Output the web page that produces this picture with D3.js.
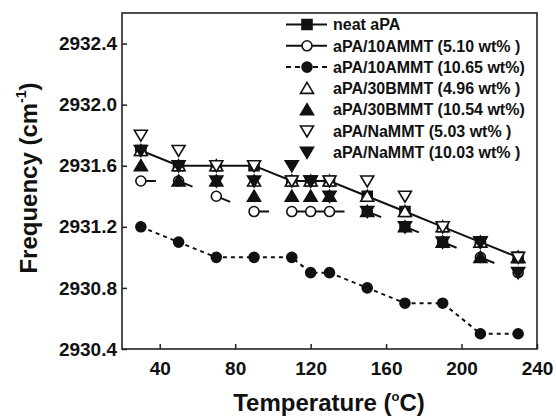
<!DOCTYPE html>
<html>
<head>
<meta charset="utf-8">
<script src="https://cdn.jsdelivr.net/npm/d3@7/dist/d3.min.js"></script>
<style>
body{margin:0;background:#fff;}
.svg text{font-family:"Liberation Sans",Arial,sans-serif;font-weight:bold;fill:#111;}
</style>
</head>
<body>
<svg class="svg" width="556" height="416"></svg>
<script>
// data
var temps=[30,50,70,90,110,120,130,150,170,190,210,230];
var neatAPA=[2931.7,2931.6,2931.6,2931.6,2931.5,2931.5,2931.5,2931.4,2931.3,2931.2,2931.1,2931.0];
var am510=[2931.5,2931.5,2931.4,2931.3,2931.3,2931.3,2931.3,2931.3,2931.2,2931.1,2931.0,2930.9];
var am1065=[2931.2,2931.1,2931.0,2931.0,2931.0,2930.9,2930.9,2930.8,2930.7,2930.7,2930.5,2930.5];
var bm496=[2931.7,2931.6,2931.6,2931.5,2931.5,2931.5,2931.5,2931.4,2931.3,2931.2,2931.1,2931.0];
var bm1054=[2931.6,2931.5,2931.5,2931.4,2931.4,2931.4,2931.4,2931.3,2931.2,2931.1,2931.0,2931.0];
var na503=[2931.8,2931.7,2931.6,2931.6,2931.5,2931.5,2931.5,2931.5,2931.4,2931.2,2931.1,2931.0];
var na1003=[2931.7,2931.6,2931.5,2931.5,2931.6,2931.5,2931.4,2931.3,2931.2,2931.1,2931.1,2930.9];
var seriesNames=["neat aPA","aPA/10AMMT (5.10 wt% )","aPA/10AMMT (10.65 wt%)","aPA/30BMMT (4.96 wt% )",
    "aPA/30BMMT (10.54 wt%)","aPA/NaMMT (5.03 wt% )","aPA/NaMMT (10.03 wt% )"];
var xTicks=[40,80,120,160,200,240];
var yTicks=[2930.4,2930.8,2931.2,2931.6,2932.0,2932.4];

var series=[
    {vals:neatAPA,shape:"square",fill:true,line:"solid"},
    {vals:am510,shape:"circle",fill:false,line:"tail"},
    {vals:am1065,shape:"circle",fill:true,line:"dash"},
    {vals:bm496,shape:"up",fill:false,line:null},
    {vals:bm1054,shape:"up",fill:true,line:null},
    {vals:na503,shape:"down",fill:false,line:null},
    {vals:na1003,shape:"down",fill:true,line:null}
];
var shapes={
    square:"M-5,-5H5V5H-5Z",
    circle:d3.symbol(d3.symbolCircle,78.5)(),
    up:"M0,-6L6.5,5L-6.5,5Z",
    down:"M0,6L6.5,-5L-6.5,-5Z"
};

var svg=d3.select(".svg");
var mL=122,mR=537,mT=13,mB=349;
var x=d3.scaleLinear().domain([20,240]).range([mL,mR]);
var y=d3.scaleLinear().domain([2930.4,2932.6]).range([mB,mT]);

//axes
var gx=svg.append("g").attr("transform","translate(0,"+mB+")")
    .call(d3.axisBottom(x).tickValues(xTicks).tickSize(-5).tickSizeOuter(0).tickPadding(13).tickFormat(d3.format("d")));
var gy=svg.append("g").attr("transform","translate("+mL+",0)")
    .call(d3.axisLeft(y).tickValues(yTicks).tickSize(-5).tickSizeOuter(0).tickPadding(5).tickFormat(d3.format(".1f")));
[gx,gy].forEach(function(g){
    g.select(".domain").remove();
    g.selectAll(".tick line").attr("stroke","#222").attr("stroke-width",1.5);
    g.selectAll(".tick text").style("font-size","19px").attr("fill","#111");
});
svg.append("rect").attr("x",mL).attr("y",mT).attr("width",mR-mL).attr("height",mB-mT)
    .attr("fill","none").attr("stroke","#222").attr("stroke-width",1.6);

//titles
var xt=svg.append("text").attr("x",329).attr("y",411).attr("text-anchor","middle").style("font-size","24px");
xt.append("tspan").text("Temperature (");
xt.append("tspan").text("o").style("font-size","13px").attr("dy",-10);
xt.append("tspan").text("C)").attr("dy",10);
var yt=svg.append("text").attr("transform","translate(37,178) rotate(-90)").attr("text-anchor","middle").style("font-size","24px");
yt.append("tspan").text("Frequency (cm");
yt.append("tspan").text("-1").style("font-size","14px").attr("dy",-11);
yt.append("tspan").text(")").attr("dy",11);

//lines
var gLine=svg.append("g").attr("class","lines");
var lineGen=d3.line().x(function(d){return x(d.t);}).y(function(d){return y(d.v);});
series.forEach(function(s){
    var pts=temps.map(function(t,i){return {t:t,v:s.vals[i]};});
    if(s.line=="solid"){
        gLine.append("path").attr("d",lineGen(pts)).attr("fill","none").attr("stroke","#111").attr("stroke-width",2);
    }else if(s.line=="dash"){
        gLine.append("path").attr("d",lineGen(pts)).attr("fill","none").attr("stroke","#111").attr("stroke-width",2).attr("stroke-dasharray","4,4");
    }else if(s.line=="tail"){
        // short stroke leaving each marker
        for(var i=0;i<pts.length-1;i++){
            gLine.append("path").attr("d",lineGen([pts[i],pts[i+1]])).attr("fill","none").attr("stroke","#111")
                .attr("stroke-width",2).attr("stroke-dasharray","0,5,10,1000");
        }
    }
});

//markers
var gMark=svg.append("g").attr("class","markers");
series.forEach(function(s){
    gMark.append("g").selectAll("path").data(temps.map(function(t,i){return {t:t,v:s.vals[i]};}))
        .enter().append("path")
        .attr("transform",function(d){return "translate("+x(d.t)+","+y(d.v)+")";})
        .attr("d",shapes[s.shape])
        .attr("fill",s.fill?"#111":"#fff").attr("stroke","#111").attr("stroke-width",1.6);
});

//legend
var lg=svg.append("g").attr("class","legend");
series.forEach(function(s,i){
    var ly=24.5+i*21.3;
    if(s.line){
        lg.append("line").attr("x1",286).attr("x2",327).attr("y1",ly).attr("y2",ly).attr("stroke","#111").attr("stroke-width",2)
            .attr("stroke-dasharray",s.line=="dash"?"5,4":null);
    }
    lg.append("path").attr("transform","translate(307,"+ly+")").attr("d",shapes[s.shape])
        .attr("fill",s.fill?"#111":"#fff").attr("stroke","#111").attr("stroke-width",1.6);
    lg.append("text").attr("x",333).attr("y",ly).attr("dy","0.36em").style("font-size","16px").text(seriesNames[i]);
});
</script>
</body>
</html>
